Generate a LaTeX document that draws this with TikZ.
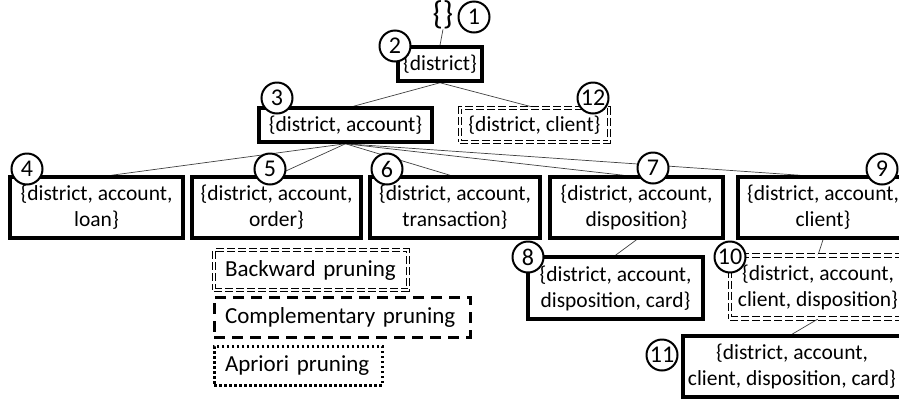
\documentclass[tikz,border=0pt]{standalone}
\usepackage{fontspec}
\setmainfont{Carlito}
\usetikzlibrary{calc,backgrounds}
\begin{document}
\begin{tikzpicture}[x=1pt,y=-1pt,
  every node/.style={font=\fontsize{21.5}{26}\selectfont},
  setbox/.style={draw, line width=3.5pt, fill=white, align=center, inner sep=0pt},
  dblbox/.style={draw, dashed, double, double distance=2.4pt, line width=0.9pt, fill=white, align=center, inner sep=0pt, dash pattern=on 8pt off 3pt},
  num/.style={circle, draw, line width=2pt, fill=white, minimum size=31pt, inner sep=0pt, font=\fontsize{24}{28}\selectfont},
  edge/.style={draw, line width=0.7pt, color=black!75},
  legbox/.style={font=\fontsize{23}{28}\selectfont, align=left, inner xsep=11pt, inner ysep=0pt}
]
\useasboundingbox (0,0) rectangle (899,400);
\clip (0,0) rectangle (899,400);

% nodes (boxes)
\node[font=\fontsize{33}{36}\selectfont, inner sep=0pt] (root) at (443,15) {\{\}};
\node[setbox, minimum width=84pt, minimum height=34pt] (b2) at (440,64) {\{district\}};
\node[setbox, minimum width=173pt, minimum height=34pt] (b3) at (345.5,125) {\{district, account\}};
\node[dblbox, minimum width=149pt, minimum height=34pt] (b12) at (534.5,125) {\{district, client\}};
\node[setbox, minimum width=173pt, minimum height=61pt] (b4) at (96.5,207.5) {\{district, account,\\loan\}};
\node[setbox, minimum width=169pt, minimum height=61pt] (b5) at (276.5,207.5) {\{district, account,\\order\}};
\node[setbox, minimum width=170pt, minimum height=61pt] (b6) at (455,207.5) {\{district, account,\\transaction\}};
\node[setbox, minimum width=173pt, minimum height=61pt] (b7) at (636.5,207.5) {\{district, account,\\disposition\}};
\node[setbox, minimum width=170pt, minimum height=61pt] (b9) at (823,207.5) {\{district, account,\\client\}};
\node[setbox, minimum width=175pt, minimum height=62pt] (b8) at (615.5,288) {\{district, account,\\disposition, card\}};
\node[dblbox, minimum width=176pt, minimum height=63pt] (b10) at (818,287) {\{district, account,\\client, disposition\}};
\node[setbox, minimum width=218pt, minimum height=61pt] (b11) at (792,366.5) {\{district, account,\\client, disposition, card\}};

% legend
\node[legbox, draw, dashed, double, double distance=2.4pt, line width=0.9pt, dash pattern=on 8pt off 3pt, text width=172pt, minimum height=40pt] (l1) at (311,270) {Backward pruning};
\node[legbox, draw, line width=3pt, dash pattern=on 11pt off 7pt, text width=234pt, minimum height=40pt] (l2) at (342,317) {Complementary pruning};
\node[legbox, draw, line width=3pt, dash pattern=on 2.5pt off 2.5pt, text width=146pt, minimum height=39pt] (l3) at (298,365.5) {Apriori pruning};

% edges
\begin{pgfonlayer}{background}
\path[edge] (root.south) -- (b2.north);
\path[edge] (b2.south) -- ($(b3.north)+(8,0)$);
\path[edge] (b2.south) -- (b12.north);
\path[edge] (b3.south) -- ($(b4.north)+(15,0)$);
\path[edge] (b3.south) -- (b5.north);
\path[edge] (b3.south) -- ($(b6.north)+(-5,0)$);
\path[edge] (b3.south) -- ($(b7.north)+(-13,0)$);
\path[edge] (b3.south) -- ($(b9.north)+(-23,0)$);
\path[edge] (b7.south) -- (b8.north);
\path[edge] (b9.south) -- (b10.north);
\path[edge] (b10.south) -- (b11.north);
\end{pgfonlayer}

% circles
\node[num] (c1) at (474,17) {1};
\node[num] (c2) at (395,46) {2};
\node[num] (c3) at (277,98) {3};
\node[num] (c12) at (593,98) {12};
\node[num] (c4) at (27,169) {4};
\node[num] (c5) at (270,169) {5};
\node[num] (c6) at (387,169) {6};
\node[num] (c7) at (653,168) {7};
\node[num] (c9) at (882,169) {9};
\node[num] (c8) at (528,257) {8};
\node[num] (c10) at (730,257) {10};
\node[num] (c11) at (662,355) {11};
\end{tikzpicture}
\end{document}
